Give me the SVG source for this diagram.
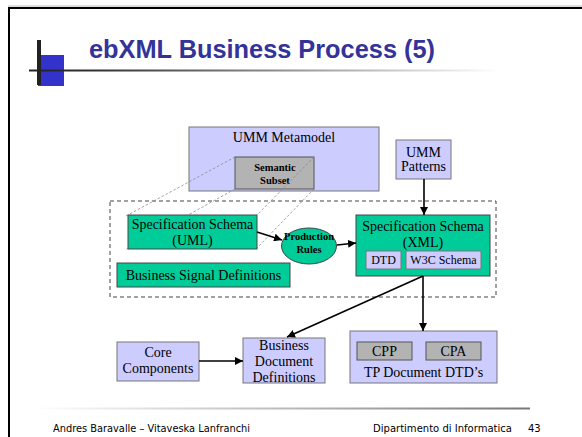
<svg xmlns="http://www.w3.org/2000/svg" width="582" height="437" viewBox="0 0 582 437">
<defs>
<linearGradient id="gTop" x1="0" y1="0" x2="1" y2="0">
<stop offset="0" stop-color="#222"/><stop offset="0.15" stop-color="#333"/><stop offset="1" stop-color="#fff"/>
</linearGradient>
<linearGradient id="gBot" x1="0" y1="0" x2="1" y2="0">
<stop offset="0" stop-color="#fff"/><stop offset="1" stop-color="#777"/>
</linearGradient>
<marker id="ah" viewBox="0 0 10 10" refX="10" refY="5" markerWidth="8" markerHeight="8" markerUnits="userSpaceOnUse" orient="auto">
<path d="M0,0 L10,5 L0,10 z" fill="#000"/>
</marker>
</defs>
<style>
.lav{fill:#ccccff;stroke:#777;stroke-width:1}
.grn{fill:#00cc99;stroke:#444;stroke-width:1}
.gry{fill:#b3b3b3;stroke:#555;stroke-width:1}
.t{font-family:"Liberation Serif","Times New Roman",serif;font-size:14px;fill:#000;text-anchor:middle}
.s{font-size:12px}
.b{font-weight:bold;font-size:10.5px}
.dot{stroke:#888;stroke-width:0.8;stroke-dasharray:2.5,2;fill:none}
.con{stroke:#000;stroke-width:1.6;fill:none;marker-end:url(#ah)}
.ft{font-family:"DejaVu Sans","Liberation Sans",sans-serif;font-size:10px;fill:#000}
</style>
<rect width="582" height="437" fill="#fff"/>
<g id="frame">
<line x1="8" y1="6" x2="582" y2="6" stroke="#bbb" stroke-width="1"/>
<line x1="8" y1="8" x2="582" y2="8" stroke="#000" stroke-width="2"/>
<line x1="9" y1="7" x2="9" y2="437" stroke="#000" stroke-width="2"/>
<rect x="38" y="55" width="26" height="31" fill="#3333cc"/>
<rect x="37" y="40" width="4" height="45" fill="#222"/>
<rect x="29" y="69.5" width="470" height="2" fill="url(#gTop)"/>
<text x="89" y="58" font-family="Liberation Sans,Arial,sans-serif" font-weight="bold" font-size="25" fill="#333399" textLength="346" lengthAdjust="spacingAndGlyphs">ebXML Business Process (5)</text>
<rect x="33" y="407.5" width="497" height="2" fill="url(#gBot)"/>
<text class="ft" x="53" y="432" textLength="197" lengthAdjust="spacingAndGlyphs">Andres Baravalle – Vitaveska Lanfranchi</text>
<text class="ft" x="373" y="432" textLength="139" lengthAdjust="spacingAndGlyphs">Dipartimento di Informatica</text>
<text class="ft" x="528" y="432">43</text>
</g>
<g id="dashedRegion">
<rect x="110" y="201" width="386" height="96" fill="none" stroke="#444" stroke-width="1" stroke-dasharray="4,3"/>
</g>
<g id="umm-metamodel">
<rect class="lav" x="189" y="127" width="190" height="64"/>
<text class="t" x="284" y="142">UMM Metamodel</text>
</g>
<g id="semantic-subset">
<rect class="gry" x="235" y="157" width="79" height="32"/>
<text class="t b" x="275" y="171">Semantic</text>
<text class="t b" x="275" y="184">Subset</text>
</g>
<g id="projection">
<line class="dot" x1="235" y1="157" x2="126" y2="216"/>
<line class="dot" x1="235" y1="189" x2="125" y2="250"/>
<line class="dot" x1="314" y1="157" x2="257" y2="215"/>
<line class="dot" x1="314" y1="189" x2="256" y2="249"/>
</g>
<g id="umm-patterns">
<rect class="lav" x="396" y="140" width="55" height="39"/>
<text class="t" x="423.5" y="157">UMM</text>
<text class="t" x="423.5" y="171">Patterns</text>
</g>
<g id="spec-uml">
<rect class="grn" x="128" y="215" width="129" height="34"/>
<text class="t" x="192.5" y="229">Specification Schema</text>
<text class="t" x="192.5" y="245">(UML)</text>
</g>
<g id="business-signal">
<rect class="grn" x="117" y="263" width="173" height="24"/>
<text class="t" x="203.5" y="280">Business Signal Definitions</text>
</g>
<g id="production-rules">
<ellipse cx="309" cy="246" rx="27.5" ry="18" fill="#00cc99" stroke="#444" stroke-width="1"/>
<text class="t b" x="309" y="240">Production</text>
<text class="t b" x="309" y="253">Rules</text>
</g>
<g id="spec-xml">
<rect class="grn" x="356" y="215" width="134" height="61"/>
<text class="t" x="423" y="231">Specification Schema</text>
<text class="t" x="423" y="247">(XML)</text>
<rect class="lav" x="366" y="251" width="35" height="18"/>
<text class="t s" x="383.5" y="264">DTD</text>
<rect class="lav" x="406" y="251" width="75" height="18"/>
<text class="t s" x="443.5" y="264">W3C Schema</text>
</g>
<g id="core-components">
<rect class="lav" x="117" y="342" width="82" height="39"/>
<text class="t" x="158" y="357">Core</text>
<text class="t" x="158" y="373">Components</text>
</g>
<g id="business-document">
<rect class="lav" x="243" y="338" width="82" height="45"/>
<text class="t" x="284" y="350">Business</text>
<text class="t" x="284" y="366">Document</text>
<text class="t" x="284" y="382">Definitions</text>
</g>
<g id="tp-document">
<rect class="lav" x="350" y="331" width="147" height="52"/>
<rect class="gry" x="357" y="342" width="55" height="18"/>
<text class="t" x="384.5" y="356">CPP</text>
<rect class="gry" x="426" y="342" width="55" height="18"/>
<text class="t" x="453.5" y="356">CPA</text>
<text class="t" x="423.5" y="377">TP Document DTD’s</text>
</g>
<g id="connectors">
<line class="con" x1="424" y1="179" x2="424" y2="215"/>
<line class="con" x1="257" y1="232" x2="282" y2="240"/>
<line class="con" x1="337" y1="245" x2="356" y2="243"/>
<line class="con" x1="423" y1="276" x2="287" y2="337"/>
<line class="con" x1="423" y1="276" x2="423" y2="331"/>
<line class="con" x1="199" y1="361" x2="243" y2="361"/>
</g>
</svg>
